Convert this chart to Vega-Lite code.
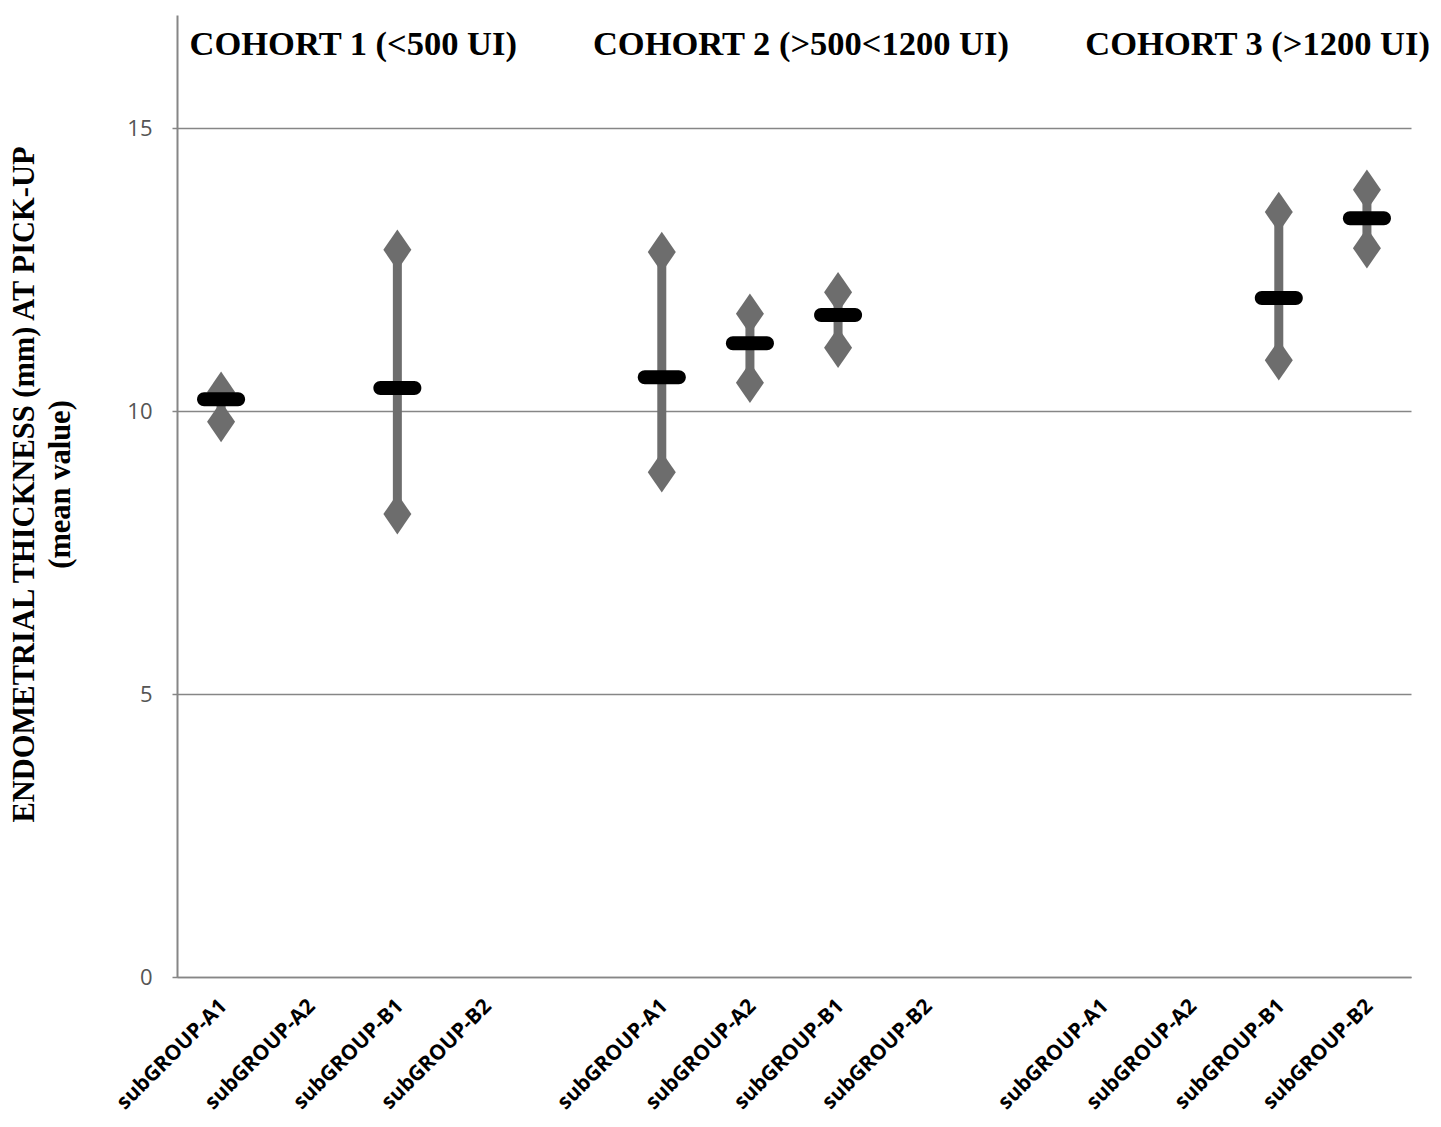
{
  "$schema": "https://vega.github.io/schema/vega-lite/v6.json",
  "autosize": {"type": "none"},
  "width": 1234,
  "height": 962,
  "padding": {"left": 177, "top": 15, "right": 30, "bottom": 150},
  "background": "white",
  "config": {
    "view": {"stroke": null},
    "axisY": {
      "grid": true,
      "gridColor": "#868686",
      "gridWidth": 1.3,
      "domainColor": "#868686",
      "domainWidth": 2,
      "tickColor": "#868686",
      "tickSize": 5,
      "tickWidth": 1.5,
      "labelFont": "Open Sans",
      "labelFontSize": 22,
      "labelColor": "#555555",
      "labelPadding": 20,
      "titleFont": "Liberation Serif",
      "titleFontSize": 30.5,
      "titleFontWeight": "bold",
      "titleColor": "#000000",
      "titleAngle": -90,
      "titleAlign": "center",
      "titleBaseline": "middle",
      "titleLineHeight": 36,
      "titleX": -153,
      "titleY": 469
    }
  },
  "datasets": {
    "groups": [
      {"slot": "1-A1", "low": 9.81, "mean": 10.21, "high": 10.34},
      {"slot": "1-B1", "low": 8.18, "mean": 10.41, "high": 12.85},
      {"slot": "2-A1", "low": 8.92, "mean": 10.6, "high": 12.81},
      {"slot": "2-A2", "low": 10.5, "mean": 11.2, "high": 11.72},
      {"slot": "2-B1", "low": 11.12, "mean": 11.7, "high": 12.1},
      {"slot": "3-B1", "low": 10.9, "mean": 12.0, "high": 13.52},
      {"slot": "3-B2", "low": 12.88, "mean": 13.41, "high": 13.91}
    ],
    "titles": [
      {"slot": "1-A2", "label": "COHORT 1 (<500 UI)"},
      {"slot": "2-A2", "label": "COHORT 2 (>500<1200 UI)"},
      {"slot": "3-A2", "label": "COHORT 3 (>1200 UI)"}
    ]
  },
  "encoding": {
    "x": {
      "field": "slot",
      "type": "nominal",
      "sort": null,
      "scale": {
        "type": "band",
        "domain": ["1-A1", "1-A2", "1-B1", "1-B2", "gap1", "2-A1", "2-A2", "2-B1", "2-B2", "gap2", "3-A1", "3-A2", "3-B1", "3-B2"],
        "paddingInner": 0,
        "paddingOuter": 0
      },
      "axis": {
        "title": null,
        "labelExpr": "indexof(datum.value, 'gap') == 0 ? '' : 'subGROUP-' + slice(datum.value, 2)",
        "labelAngle": -45,
        "labelAlign": "right",
        "labelBaseline": "top",
        "labelFont": "Open Sans",
        "labelFontWeight": "bold",
        "labelFontSize": 21,
        "labelColor": "#000000",
        "labelPadding": 18,
        "labelOffset": -5,
        "labelOverlap": false,
        "ticks": false,
        "grid": false,
        "domainColor": "#868686",
        "domainWidth": 1.5
      }
    }
  },
  "layer": [
    {
      "data": {"name": "groups"},
      "mark": {"type": "rule", "color": "#6d6d6d", "strokeWidth": 9},
      "encoding": {
        "y": {
          "field": "low",
          "type": "quantitative",
          "scale": {"domain": [0, 17], "nice": false, "zero": true},
          "axis": {"values": [0, 5, 10, 15], "title": ["ENDOMETRIAL THICKNESS (mm) AT PICK-UP", "(mean value)"]}
        },
        "y2": {"field": "high"}
      }
    },
    {
      "data": {"name": "groups"},
      "mark": {"type": "point", "shape": "M0,-1.45L1,0L0,1.45L-1,0Z", "size": 784, "filled": true, "color": "#6d6d6d", "opacity": 1},
      "encoding": {"y": {"field": "high", "type": "quantitative", "axis": {"values": [0, 5, 10, 15], "title": ["ENDOMETRIAL THICKNESS (mm) AT PICK-UP", "(mean value)"]}}}
    },
    {
      "data": {"name": "groups"},
      "mark": {"type": "point", "shape": "M0,-1.45L1,0L0,1.45L-1,0Z", "size": 784, "filled": true, "color": "#6d6d6d", "opacity": 1},
      "encoding": {"y": {"field": "low", "type": "quantitative", "axis": {"values": [0, 5, 10, 15], "title": ["ENDOMETRIAL THICKNESS (mm) AT PICK-UP", "(mean value)"]}}}
    },
    {
      "data": {"name": "groups"},
      "mark": {"type": "tick", "orient": "horizontal", "size": 48, "thickness": 14, "cornerRadius": 7, "color": "#000000", "opacity": 1},
      "encoding": {"y": {"field": "mean", "type": "quantitative", "axis": {"values": [0, 5, 10, 15], "title": ["ENDOMETRIAL THICKNESS (mm) AT PICK-UP", "(mean value)"]}}}
    },
    {
      "data": {"name": "titles"},
      "transform": [{"filter": "datum.slot == '1-A2'"}],
      "mark": {"type": "text", "font": "Liberation Serif", "fontWeight": "bold", "fontSize": 34.5, "align": "center", "baseline": "alphabetic", "dx": 44, "color": "#000000"},
      "encoding": {"y": {"datum": 16.3, "type": "quantitative", "axis": {"values": [0, 5, 10, 15], "title": ["ENDOMETRIAL THICKNESS (mm) AT PICK-UP", "(mean value)"]}}, "text": {"field": "label"}}
    },
    {
      "data": {"name": "titles"},
      "transform": [{"filter": "datum.slot == '2-A2'"}],
      "mark": {"type": "text", "font": "Liberation Serif", "fontWeight": "bold", "fontSize": 34.5, "align": "center", "baseline": "alphabetic", "dx": 51, "color": "#000000"},
      "encoding": {"y": {"datum": 16.3, "type": "quantitative", "axis": {"values": [0, 5, 10, 15], "title": ["ENDOMETRIAL THICKNESS (mm) AT PICK-UP", "(mean value)"]}}, "text": {"field": "label"}}
    },
    {
      "data": {"name": "titles"},
      "transform": [{"filter": "datum.slot == '3-A2'"}],
      "mark": {"type": "text", "font": "Liberation Serif", "fontWeight": "bold", "fontSize": 34.5, "align": "center", "baseline": "alphabetic", "dx": 67, "color": "#000000"},
      "encoding": {"y": {"datum": 16.3, "type": "quantitative", "axis": {"values": [0, 5, 10, 15], "title": ["ENDOMETRIAL THICKNESS (mm) AT PICK-UP", "(mean value)"]}}, "text": {"field": "label"}}
    }
  ]
}
